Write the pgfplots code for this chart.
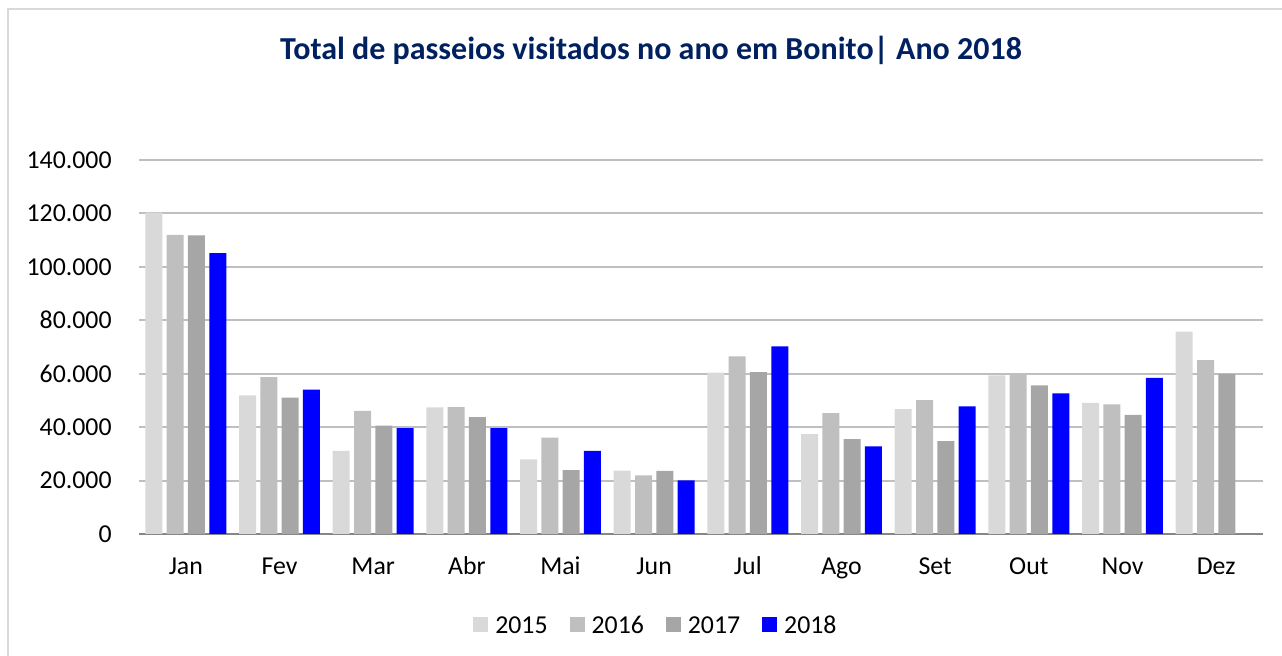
\documentclass[border=0pt]{standalone}
\usepackage{pgfplots}
\pgfplotsset{compat=1.18}
\usepackage{pgfplotstable}
\usepackage{fontspec}
\setmainfont{Carlito}
\definecolor{c15}{HTML}{D9D9D9}
\definecolor{c16}{HTML}{BFBFBF}
\definecolor{c17}{HTML}{A6A6A6}
\definecolor{c18}{HTML}{0000FF}
\definecolor{grid}{HTML}{868686}
\definecolor{titlec}{HTML}{002060}
\definecolor{frame}{HTML}{D9D9D9}
\pgfplotstableread{
m a b c d
0 120300 112000 111750 105100
1 51900 58750 51000 54000
2 31100 46100 40600 39600
3 47400 47500 43750 39600
4 27900 36100 23900 31100
5 23750 21900 23600 20100
6 60400 66500 60600 70250
7 37400 45250 35500 32750
8 46750 50100 34750 47750
9 59400 60100 55600 52600
10 49100 48500 44600 58400
11 75750 65100 59900 nan
}\data
\begin{document}
\begin{tikzpicture}
\useasboundingbox (0,0) rectangle (641pt,328pt);
\draw[frame, line width=0.75pt] (4pt,-2pt) -- (4pt,323.5pt) -- (645pt,323.5pt);
\node[anchor=base, text=titlec, font=\fontsize{16}{19}\selectfont\bfseries, inner sep=0pt] at (325.5pt,298pt) {Total de passeios visitados no ano em Bonito| Ano 2018};
\begin{axis}[
  at={(69.5pt,61pt)}, anchor=south west,
  scale only axis, width=562pt, height=187pt,
  xmin=-0.5, xmax=11.5, ymin=0, ymax=140000,
  enlarge x limits=false,
  ybar=2.15pt, bar width=8.5pt,
  xtick=data,
  xticklabels={Jan,Fev,Mar,Abr,Mai,Jun,Jul,Ago,Set,Out,Nov,Dez},
  ytick={0,20000,...,140000},
  scaled y ticks=false,
  /pgf/number format/.cd, fixed, 1000 sep={.}, assume math mode=true, /pgfplots/.cd,
  axis x line*=bottom,
  axis y line*=left,
  y axis line style={draw=none},
  x axis line style={grid, line width=1pt, -},
  major tick length=0pt,
  xmajorgrids=false,
  ymajorgrids=true, grid style={grid, line width=0.95pt},
  tick label style={font=\fontsize{12.9}{15}\selectfont, text=black},
  yticklabel style={anchor=east, inner sep=0pt, xshift=-13.5pt},
  xticklabel style={anchor=base, inner sep=0pt, yshift=-20.5pt},
  every axis plot/.append style={draw=none},
  legend columns=4,
  legend style={at={(0.459,-0.243)}, anchor=center, draw=none, fill=none,
    font=\fontsize{12.9}{15}\selectfont, inner sep=0pt,
    nodes={inner sep=0pt},
    /tikz/every odd column/.append style={column sep=3.5pt},
    /tikz/every even column/.append style={column sep=11pt}},
  legend image code/.code={\fill[#1] (0pt,-3.75pt) rectangle (7.5pt,3.75pt);},
]
\addplot[fill=c15] table[x=m,y=a]{\data};
\addplot[fill=c16] table[x=m,y=b]{\data};
\addplot[fill=c17] table[x=m,y=c]{\data};
\addplot[fill=c18] table[x=m,y=d]{\data};
\legend{\strut 2015,\strut 2016,\strut 2017,\strut 2018}
\end{axis}
\end{tikzpicture}
\end{document}
